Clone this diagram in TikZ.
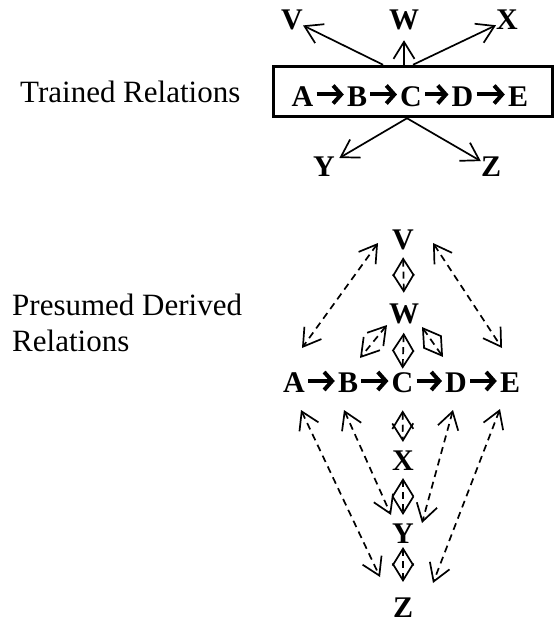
\documentclass[tikz,border=0pt]{standalone}
\usepackage{fontspec}
\setmainfont{Liberation Serif}
\usetikzlibrary{arrows.meta}

\tikzset{
  letter/.style={font=\fontsize{30}{36}\selectfont\bfseries, inner sep=0pt},
  caption/.style={font=\fontsize{31}{36.7}\selectfont, inner sep=0pt, align=left},
  chain/.style={line width=4pt, -{Straight Barb[length=8pt,width=18pt]}, shorten <=3pt, shorten >=3pt},
  rel/.style={line width=1.7pt, -{Straight Barb[length=17pt,width=21pt]}},
  der/.style={line width=1.7pt, dash pattern=on 7pt off 5pt,
    {Straight Barb[length=17pt,width=21pt]}-{Straight Barb[length=17pt,width=21pt]}},
}

\begin{document}
\begin{tikzpicture}[x=1pt, y=-1pt]
\useasboundingbox (0,0) rectangle (555,628);

%Trained Relations
\node[caption, anchor=base west] (trainedlbl) at (20,103) {Trained Relations};
\node[draw, line width=3pt, minimum width=279.5pt, minimum height=50.5pt, inner sep=0pt] (trained) at (413,91.5) {};
\node[letter] (A1) at (302.5,96.5) {A};
\node[letter] (B1) at (357,96.5) {B};
\node[letter] (C1) at (411,96.5) {C};
\node[letter] (D1) at (462.5,96.5) {D};
\node[letter] (E1) at (518,96.5) {E};
\draw[chain] ([yshift=2pt]A1.east) -- ([yshift=2pt]B1.west);
\draw[chain] ([yshift=2pt]B1.east) -- ([yshift=2pt]C1.west);
\draw[chain] ([yshift=2pt]C1.east) -- ([yshift=2pt]D1.west);
\draw[chain] ([yshift=2pt]D1.east) -- ([yshift=2pt]E1.west);

\node[letter] (V1) at (292,20) {V};
\node[letter] (W1) at (404,20) {W};
\node[letter] (X1) at (507,20) {X};
\node[letter] (Y1) at (324,167) {Y};
\node[letter] (Z1) at (491,167) {Z};
\draw[rel] ([xshift=-30pt]trained.north) -- (V1);
\draw[rel, shorten >=10pt] (trained.north -| W1) -- (W1);
\draw[rel] (trained.north) -- (X1);
\draw[rel, shorten >=5pt] ([xshift=-6pt]trained.south) -- (Y1);
\draw[rel] ([xshift=-6pt]trained.south) -- (Z1);

%Presumed Derived Relations
\node[caption, anchor=north west] (derivedlbl) at (12,293.5) {Presumed Derived\\Relations};
\node[letter] (V2) at (403,240) {V};
\node[letter] (W2) at (404,314) {W};
\node[letter] (A2) at (294,383) {A};
\node[letter] (B2) at (348,383) {B};
\node[letter] (C2) at (402.5,383) {C};
\node[letter] (D2) at (456,383) {D};
\node[letter] (E2) at (510,383) {E};
\node[letter] (X2) at (403,461) {X};
\node[letter] (Y2) at (403,534) {Y};
\node[letter] (Z2) at (403,608) {Z};
\draw[chain] ([yshift=2pt]A2.east) -- ([yshift=2pt]B2.west);
\draw[chain] ([yshift=2pt]B2.east) -- ([yshift=2pt]C2.west);
\draw[chain] ([yshift=2pt]C2.east) -- ([yshift=2pt]D2.west);
\draw[chain] ([yshift=2pt]D2.east) -- ([yshift=2pt]E2.west);

%Diamonds down the middle
\draw[der, shorten <=7pt, shorten >=11pt] (V2.south) -- (W2.north);
\draw[der, shorten <=8.5pt, shorten >=4pt] (W2.south) -- (C2.north);
\draw[der, shorten <=17pt, shorten >=9pt] (C2.south) -- (X2.north);
\draw[der, shorten <=7pt, shorten >=9pt] (X2.south) -- (Y2.north);
\draw[der, shorten <=3pt, shorten >=16pt] (Y2.south) -- (Z2.north);

%Side arrows
\draw[der] ([xshift=-25pt,yshift=-3pt]V2.center) -- ([xshift=8pt,yshift=35pt]A2.center);
\draw[der] ([xshift=30pt,yshift=-3pt]V2.center) -- ([xshift=-8pt,yshift=35pt]E2.center);
\draw[der] ([xshift=-17pt,yshift=-11pt]W2.center) -- ([xshift=12pt,yshift=25pt]B2.center);
\draw[der] ([xshift=18pt,yshift=-13pt]W2.center) -- ([xshift=-13pt,yshift=26pt]D2.center);
\draw[der] ([xshift=7pt,yshift=-27pt]A2.center) -- ([xshift=-23pt,yshift=31pt]Z2.center);
\draw[der] ([xshift=-4pt,yshift=-27pt]B2.center) -- ([xshift=-12pt,yshift=19pt]Y2.center);
\draw[der] ([xshift=-3pt,yshift=-27pt]D2.center) -- ([xshift=19pt,yshift=11pt]Y2.center);
\draw[der] ([xshift=-10pt,yshift=-26pt]E2.center) -- ([xshift=30pt,yshift=25pt]Z2.center);

\end{tikzpicture}
\end{document}
